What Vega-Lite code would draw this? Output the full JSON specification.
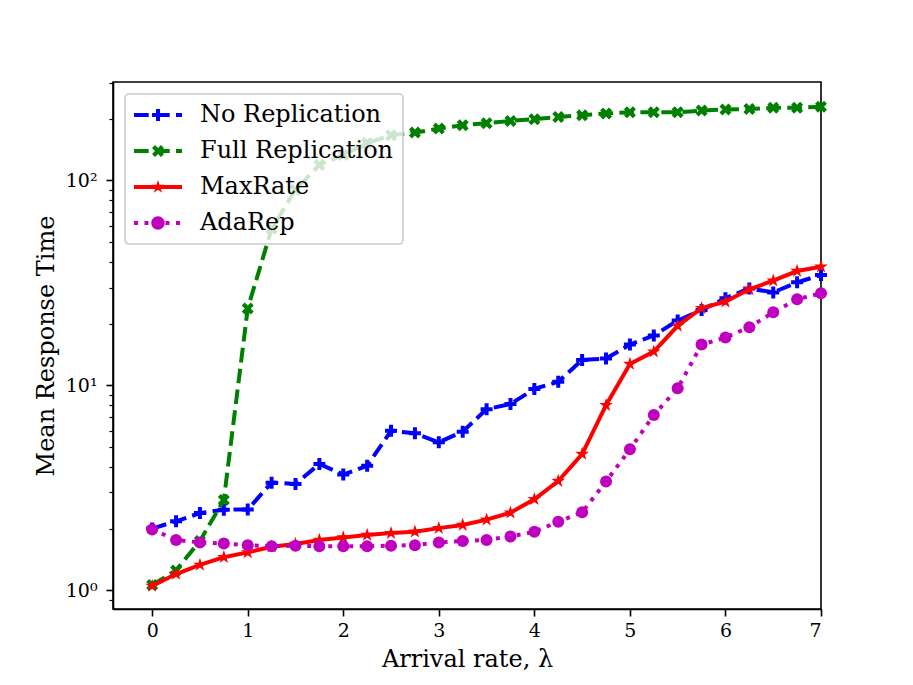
{
  "$schema": "https://vega.github.io/schema/vega-lite/v6.json",
  "background": "#fff",
  "autosize": {"type": "none"},
  "padding": {"left": 113, "top": 82, "right": 92, "bottom": 76},
  "width": 708,
  "height": 527,
  "data": {
    "values": [
      {"rate": 0, "time": 2.0, "method": "No Replication"},
      {"rate": 0.25, "time": 2.17, "method": "No Replication"},
      {"rate": 0.5, "time": 2.38, "method": "No Replication"},
      {"rate": 0.75, "time": 2.47, "method": "No Replication"},
      {"rate": 1, "time": 2.48, "method": "No Replication"},
      {"rate": 1.25, "time": 3.35, "method": "No Replication"},
      {"rate": 1.5, "time": 3.3, "method": "No Replication"},
      {"rate": 1.75, "time": 4.13, "method": "No Replication"},
      {"rate": 2, "time": 3.67, "method": "No Replication"},
      {"rate": 2.25, "time": 4.05, "method": "No Replication"},
      {"rate": 2.5, "time": 6.0, "method": "No Replication"},
      {"rate": 2.75, "time": 5.83, "method": "No Replication"},
      {"rate": 3, "time": 5.27, "method": "No Replication"},
      {"rate": 3.25, "time": 5.94, "method": "No Replication"},
      {"rate": 3.5, "time": 7.65, "method": "No Replication"},
      {"rate": 3.75, "time": 8.1, "method": "No Replication"},
      {"rate": 4, "time": 9.6, "method": "No Replication"},
      {"rate": 4.25, "time": 10.4, "method": "No Replication"},
      {"rate": 4.5, "time": 13.3, "method": "No Replication"},
      {"rate": 4.75, "time": 13.5, "method": "No Replication"},
      {"rate": 5, "time": 15.8, "method": "No Replication"},
      {"rate": 5.25, "time": 17.5, "method": "No Replication"},
      {"rate": 5.5, "time": 20.7, "method": "No Replication"},
      {"rate": 5.75, "time": 23.3, "method": "No Replication"},
      {"rate": 6, "time": 26.6, "method": "No Replication"},
      {"rate": 6.25, "time": 29.7, "method": "No Replication"},
      {"rate": 6.5, "time": 28.4, "method": "No Replication"},
      {"rate": 6.75, "time": 31.8, "method": "No Replication"},
      {"rate": 7, "time": 34.5, "method": "No Replication"},

      {"rate": 0, "time": 1.06, "method": "Full Replication"},
      {"rate": 0.25, "time": 1.25, "method": "Full Replication"},
      {"rate": 0.5, "time": 1.74, "method": "Full Replication"},
      {"rate": 0.75, "time": 2.76, "method": "Full Replication"},
      {"rate": 1, "time": 23.7, "method": "Full Replication"},
      {"rate": 1.25, "time": 58, "method": "Full Replication"},
      {"rate": 1.5, "time": 90, "method": "Full Replication"},
      {"rate": 1.75, "time": 119, "method": "Full Replication"},
      {"rate": 2, "time": 133, "method": "Full Replication"},
      {"rate": 2.25, "time": 152, "method": "Full Replication"},
      {"rate": 2.5, "time": 166, "method": "Full Replication"},
      {"rate": 2.75, "time": 171, "method": "Full Replication"},
      {"rate": 3, "time": 179, "method": "Full Replication"},
      {"rate": 3.25, "time": 186, "method": "Full Replication"},
      {"rate": 3.5, "time": 190, "method": "Full Replication"},
      {"rate": 3.75, "time": 195, "method": "Full Replication"},
      {"rate": 4, "time": 199, "method": "Full Replication"},
      {"rate": 4.25, "time": 204, "method": "Full Replication"},
      {"rate": 4.5, "time": 208, "method": "Full Replication"},
      {"rate": 4.75, "time": 212, "method": "Full Replication"},
      {"rate": 5, "time": 215, "method": "Full Replication"},
      {"rate": 5.25, "time": 215, "method": "Full Replication"},
      {"rate": 5.5, "time": 215, "method": "Full Replication"},
      {"rate": 5.75, "time": 219, "method": "Full Replication"},
      {"rate": 6, "time": 222, "method": "Full Replication"},
      {"rate": 6.25, "time": 223, "method": "Full Replication"},
      {"rate": 6.5, "time": 226, "method": "Full Replication"},
      {"rate": 6.75, "time": 226, "method": "Full Replication"},
      {"rate": 7, "time": 229, "method": "Full Replication"},

      {"rate": 0, "time": 1.05, "method": "MaxRate"},
      {"rate": 0.25, "time": 1.2, "method": "MaxRate"},
      {"rate": 0.5, "time": 1.33, "method": "MaxRate"},
      {"rate": 0.75, "time": 1.45, "method": "MaxRate"},
      {"rate": 1, "time": 1.53, "method": "MaxRate"},
      {"rate": 1.25, "time": 1.63, "method": "MaxRate"},
      {"rate": 1.5, "time": 1.68, "method": "MaxRate"},
      {"rate": 1.75, "time": 1.76, "method": "MaxRate"},
      {"rate": 2, "time": 1.81, "method": "MaxRate"},
      {"rate": 2.25, "time": 1.86, "method": "MaxRate"},
      {"rate": 2.5, "time": 1.9, "method": "MaxRate"},
      {"rate": 2.75, "time": 1.93, "method": "MaxRate"},
      {"rate": 3, "time": 2.01, "method": "MaxRate"},
      {"rate": 3.25, "time": 2.08, "method": "MaxRate"},
      {"rate": 3.5, "time": 2.21, "method": "MaxRate"},
      {"rate": 3.75, "time": 2.39, "method": "MaxRate"},
      {"rate": 4, "time": 2.78, "method": "MaxRate"},
      {"rate": 4.25, "time": 3.41, "method": "MaxRate"},
      {"rate": 4.5, "time": 4.62, "method": "MaxRate"},
      {"rate": 4.75, "time": 8.0, "method": "MaxRate"},
      {"rate": 5, "time": 12.7, "method": "MaxRate"},
      {"rate": 5.25, "time": 14.6, "method": "MaxRate"},
      {"rate": 5.5, "time": 19.5, "method": "MaxRate"},
      {"rate": 5.75, "time": 23.8, "method": "MaxRate"},
      {"rate": 6, "time": 25.6, "method": "MaxRate"},
      {"rate": 6.25, "time": 29.4, "method": "MaxRate"},
      {"rate": 6.5, "time": 32.4, "method": "MaxRate"},
      {"rate": 6.75, "time": 36.1, "method": "MaxRate"},
      {"rate": 7, "time": 37.9, "method": "MaxRate"},

      {"rate": 0, "time": 1.98, "method": "AdaRep"},
      {"rate": 0.25, "time": 1.76, "method": "AdaRep"},
      {"rate": 0.5, "time": 1.71, "method": "AdaRep"},
      {"rate": 0.75, "time": 1.69, "method": "AdaRep"},
      {"rate": 1, "time": 1.66, "method": "AdaRep"},
      {"rate": 1.25, "time": 1.64, "method": "AdaRep"},
      {"rate": 1.5, "time": 1.65, "method": "AdaRep"},
      {"rate": 1.75, "time": 1.64, "method": "AdaRep"},
      {"rate": 2, "time": 1.64, "method": "AdaRep"},
      {"rate": 2.25, "time": 1.64, "method": "AdaRep"},
      {"rate": 2.5, "time": 1.65, "method": "AdaRep"},
      {"rate": 2.75, "time": 1.66, "method": "AdaRep"},
      {"rate": 3, "time": 1.71, "method": "AdaRep"},
      {"rate": 3.25, "time": 1.74, "method": "AdaRep"},
      {"rate": 3.5, "time": 1.76, "method": "AdaRep"},
      {"rate": 3.75, "time": 1.83, "method": "AdaRep"},
      {"rate": 4, "time": 1.93, "method": "AdaRep"},
      {"rate": 4.25, "time": 2.16, "method": "AdaRep"},
      {"rate": 4.5, "time": 2.4, "method": "AdaRep"},
      {"rate": 4.75, "time": 3.39, "method": "AdaRep"},
      {"rate": 5, "time": 4.87, "method": "AdaRep"},
      {"rate": 5.25, "time": 7.16, "method": "AdaRep"},
      {"rate": 5.5, "time": 9.67, "method": "AdaRep"},
      {"rate": 5.75, "time": 15.8, "method": "AdaRep"},
      {"rate": 6, "time": 17.1, "method": "AdaRep"},
      {"rate": 6.25, "time": 19.2, "method": "AdaRep"},
      {"rate": 6.5, "time": 22.7, "method": "AdaRep"},
      {"rate": 6.75, "time": 26.3, "method": "AdaRep"},
      {"rate": 7, "time": 28.1, "method": "AdaRep"}
    ]
  },
  "encoding": {
    "x": {
      "field": "rate",
      "type": "quantitative",
      "title": "Arrival rate, λ",
      "scale": {"domain": [-0.41, 7], "nice": false, "zero": false},
      "axis": {"values": [0, 1, 2, 3, 4, 5, 6, 7], "format": "d", "tickSize": 7, "labelPadding": 5, "titlePadding": 7}
    },
    "y": {
      "field": "time",
      "type": "quantitative",
      "title": "Mean Response Time",
      "scale": {"type": "log", "domain": [0.81, 302], "nice": false},
      "axis": {
        "values": [0.9, 1, 2, 3, 4, 5, 6, 7, 8, 9, 10, 20, 30, 40, 50, 60, 70, 80, 90, 100, 200, 300],
        "labelExpr": "datum.value == 1 ? '10⁰' : datum.value == 10 ? '10¹' : datum.value == 100 ? '10²' : ''",
        "tickSize": {"condition": {"test": "datum.value == 1 || datum.value == 10 || datum.value == 100", "value": 7}, "value": 4},
        "tickWidth": {"condition": {"test": "datum.value == 1 || datum.value == 10 || datum.value == 100", "value": 1.6}, "value": 1.2},
        "labelPadding": 9,
        "titlePadding": 7
      }
    },
    "color": {
      "field": "method",
      "type": "nominal",
      "scale": {
        "domain": ["No Replication", "Full Replication", "MaxRate", "AdaRep"],
        "range": ["#0000ff", "#008000", "#ff0000", "#bf00bf"]
      },
      "legend": {
        "title": null,
        "orient": "top-left",
        "offset": 12,
        "padding": 9,
        "symbolSize": 576,
        "symbolOffset": 12,
        "symbolOpacity": 1,
        "symbolStrokeWidth": 0,
        "labelOffset": 30,
        "labelLimit": 0,
        "rowPadding": 12
      }
    }
  },
  "layer": [
    {
      "transform": [{"filter": "datum.method === 'No Replication'"}],
      "mark": {"type": "line", "strokeWidth": 4, "strokeDash": [14.7, 6.3]}
    },
    {
      "transform": [{"filter": "datum.method === 'No Replication'"}],
      "mark": {"type": "point", "filled": true, "opacity": 1, "size": 144, "shape": "M-1,-0.333H-0.333V-1H0.333V-0.333H1V0.333H0.333V1H-0.333V0.333H-1Z"}
    },
    {
      "transform": [{"filter": "datum.method === 'Full Replication'"}],
      "mark": {"type": "line", "strokeWidth": 4, "strokeDash": [14.7, 6.3]}
    },
    {
      "transform": [{"filter": "datum.method === 'Full Replication'"}],
      "mark": {"type": "point", "filled": true, "opacity": 1, "size": 144, "shape": "M-0.5,-1L0,-0.5L0.5,-1L1,-0.5L0.5,0L1,0.5L0.5,1L0,0.5L-0.5,1L-1,0.5L-0.5,0L-1,-0.5Z"}
    },
    {
      "transform": [{"filter": "datum.method === 'MaxRate'"}],
      "mark": {"type": "line", "strokeWidth": 4}
    },
    {
      "transform": [{"filter": "datum.method === 'MaxRate'"}],
      "mark": {"type": "point", "filled": true, "opacity": 1, "size": 144, "shape": "M0,-1.2L0.27,-0.371L1.141,-0.371L0.436,0.142L0.706,0.971L0,0.458L-0.706,0.971L-0.436,0.142L-1.141,-0.371L-0.27,-0.371Z"}
    },
    {
      "transform": [{"filter": "datum.method === 'AdaRep'"}],
      "mark": {"type": "line", "strokeWidth": 4, "strokeDash": [4, 6.5]}
    },
    {
      "transform": [{"filter": "datum.method === 'AdaRep'"}],
      "mark": {"type": "point", "filled": true, "opacity": 1, "size": 144, "shape": "circle"}
    },
    {
      "transform": [{"filter": "datum.rate < -1"}],
      "mark": {"type": "point", "filled": true},
      "encoding": {
        "shape": {
          "field": "method",
          "type": "nominal",
          "scale": {
            "domain": ["No Replication", "Full Replication", "MaxRate", "AdaRep"],
            "range": [
              "M-2,-0.167H-0.775V0.167H-2Z M-0.25,-0.167H0.975V0.167H-0.25Z M1.5,-0.167H2V0.167H1.5Z M-0.5,-0.167H-0.167V-0.5H0.167V-0.167H0.5V0.167H0.167V0.5H-0.167V0.167H-0.5Z",
              "M-2,-0.167H-0.775V0.167H-2Z M-0.25,-0.167H0.975V0.167H-0.25Z M1.5,-0.167H2V0.167H1.5Z M-0.25,-0.5L0,-0.25L0.25,-0.5L0.5,-0.25L0.25,0L0.5,0.25L0.25,0.5L0,0.25L-0.25,0.5L-0.5,0.25L-0.25,0L-0.5,-0.25Z",
              "M-2,-0.167H2V0.167H-2Z M0,-0.58L0.13,-0.18L0.552,-0.18L0.21,0.068L0.342,0.47L0,0.222L-0.342,0.47L-0.21,0.068L-0.552,-0.18L-0.13,-0.18Z",
              "M-2,-0.167H-1.667V0.167H-2Z M-1.125,-0.167H-0.792V0.167H-1.125Z M-0.25,-0.167H0.083V0.167H-0.25Z M0.625,-0.167H0.958V0.167H0.625Z M1.5,-0.167H1.833V0.167H1.5Z M0.56,0A0.56,0.56 0 1,1 -0.56,0A0.56,0.56 0 1,1 0.56,0Z"
            ]
          },
          "legend": null
        }
      }
    }
  ],
  "config": {
    "font": "DejaVu Serif",
    "view": {"stroke": "black", "strokeWidth": 1.6},
    "axis": {
      "grid": false,
      "labelFont": "DejaVu Serif",
      "labelFontSize": 19,
      "labelColor": "black",
      "titleFont": "DejaVu Serif",
      "titleFontSize": 24,
      "titleFontWeight": "normal",
      "titleColor": "black",
      "domainColor": "black",
      "domainWidth": 1.6,
      "tickColor": "black",
      "tickWidth": 1.6
    },
    "legend": {
      "labelFont": "DejaVu Serif",
      "labelFontSize": 24,
      "labelColor": "black",
      "fillColor": "rgba(255,255,255,0.8)",
      "strokeColor": "#cccccc",
      "cornerRadius": 4,
      "strokeWidth": 1.6,
      "symbolOpacity": 1
    }
  }
}
